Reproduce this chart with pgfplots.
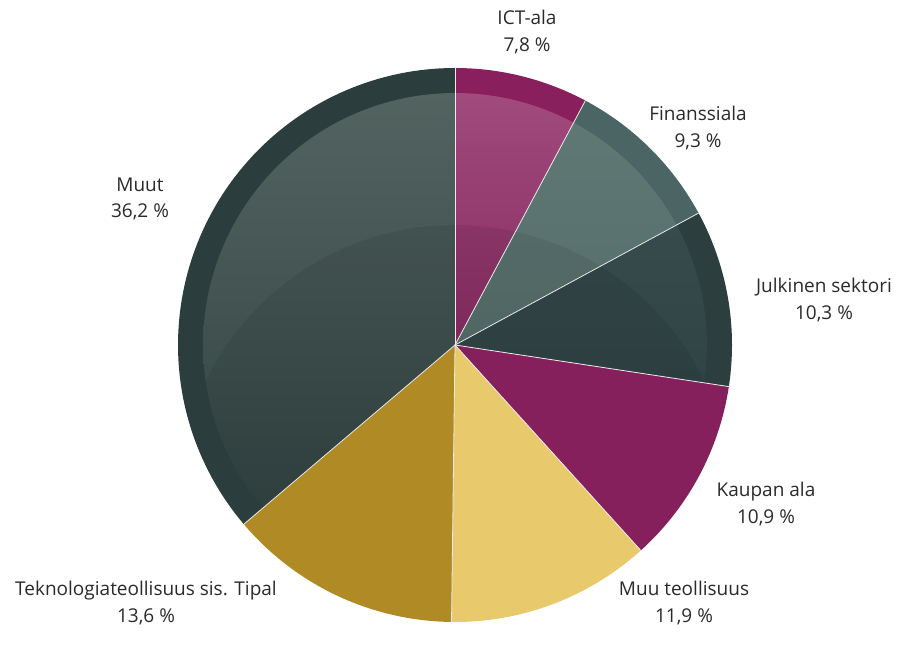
\documentclass[border=0pt]{standalone}
\usepackage{pgfplots}
\pgfplotsset{compat=1.18}
\usepackage{pgfplotstable}
\usepackage{fontspec}
\setmainfont{Open Sans}

\definecolor{ictc}{HTML}{8A1F5E}
\definecolor{finc}{HTML}{4B6464}
\definecolor{julc}{HTML}{2C3F3E}
\definecolor{kauc}{HTML}{86205C}
\definecolor{muuc}{HTML}{E8C96C}
\definecolor{tekc}{HTML}{AF8A25}
\definecolor{muutc}{HTML}{2B3D3C}
\definecolor{labc}{HTML}{2A2A2A}
% highlight gradients (top / bottom)
\definecolor{ictT}{HTML}{A04A7D}\definecolor{ictB}{HTML}{882C62}
\definecolor{finT}{HTML}{607874}\definecolor{finB}{HTML}{566E6B}
\definecolor{julT}{HTML}{374A4C}\definecolor{julB}{HTML}{304345}
\definecolor{muutT}{HTML}{536360}\definecolor{muutB}{HTML}{324443}

% shares in percent, clockwise from 12 o'clock
\pgfplotstableread{
share col   hitop  hibot
7.8   ictc  ictT   ictB
9.3   finc  finT   finB
10.3  julc  julT   julB
10.9  kauc  none   none
11.9  muuc  none   none
13.6  tekc  none   none
36.2  muutc muutT  muutB
}\piedata

\def\noneword{none}

\begin{document}
\begin{tikzpicture}
\begin{axis}[
    x=1pt, y=1pt,
    xmin=0, xmax=909, ymin=0, ymax=671,
    hide axis,
    clip=false,
  ]
  \def\cx{455}\def\cy{326}\def\R{277}\def\Ri{252}\def\dd{157}
  \def\cum{0}
  \pgfplotsforeachungrouped \i in {0,...,6}{%
    \pgfplotstablegetelem{\i}{share}\of\piedata \let\sh\pgfplotsretval
    \pgfplotstablegetelem{\i}{col}\of\piedata \let\cc\pgfplotsretval
    \pgfplotstablegetelem{\i}{hitop}\of\piedata \let\hiT\pgfplotsretval
    \pgfplotstablegetelem{\i}{hibot}\of\piedata \let\hiB\pgfplotsretval
    \pgfmathsetmacro\aS{90-3.6*\cum}
    \pgfmathsetmacro\aE{90-3.6*(\cum+\sh)}
    \edef\doit{\noexpand\addplot[fill=\cc, draw=none, domain=\aE:\aS, samples=90, variable=\noexpand\t]
      ({\cx+\R*cos(\noexpand\t)},{\cy+\R*sin(\noexpand\t)}) -- (axis cs:\cx,\cy) -- cycle;}
    \doit
    \ifx\hiT\noneword\else
      \edef\doit{\noexpand\addplot[draw=none, top color=\hiT, bottom color=\hiB, domain=\aE:\aS, samples=90, variable=\noexpand\t]
        ({\cx+\Ri*cos(\noexpand\t)},{\cy+\Ri*sin(\noexpand\t)}) -- (axis cs:\cx,\cy) -- cycle;}
      \doit
      % lower inner disc of the gloss, slightly darker
      \edef\doit{\noexpand\addplot[draw=none, fill=black, fill opacity=0.07, domain=\aE:\aS, samples=90, variable=\noexpand\t]
        ({\cx+min(\Ri,-\dd*sin(\noexpand\t)+sqrt(\dd*\dd*sin(\noexpand\t)^2-\dd*\dd+\R*\R))*cos(\noexpand\t)},
         {\cy+min(\Ri,-\dd*sin(\noexpand\t)+sqrt(\dd*\dd*sin(\noexpand\t)^2-\dd*\dd+\R*\R))*sin(\noexpand\t)}) -- (axis cs:\cx,\cy) -- cycle;}
      \doit
    \fi
    \pgfmathsetmacro\cum{\cum+\sh}
  }
  % white separators
  \def\cum{0}
  \pgfplotsforeachungrouped \i in {0,...,6}{%
    \pgfplotstablegetelem{\i}{share}\of\piedata \let\sh\pgfplotsretval
    \pgfmathsetmacro\aS{90-3.6*\cum}
    \edef\doit{\noexpand\addplot[white!85!gray, line width=0.8pt, domain=0:\R, samples=2]
      ({\cx+x*cos(\aS)},{\cy+x*sin(\aS)});}
    \doit
    \pgfmathsetmacro\cum{\cum+\sh}
  }
  \begin{scope}[every node/.style={align=center, text=labc, font=\fontsize{19}{26.5}\selectfont}]
    \node at (axis cs:527,639) {ICT-ala\\7,8 \%};
    \node at (axis cs:698,543) {Finanssiala\\9,3 \%};
    \node at (axis cs:824,371) {Julkinen sektori\\10,3 \%};
    \node at (axis cs:766,167) {Kaupan ala\\10,9 \%};
    \node at (axis cs:684,68) {Muu teollisuus\\11,9 \%};
    \node at (axis cs:146,68) {Teknologiateollisuus sis. Tipal\\13,6 \%};
    \node at (axis cs:140,472) {Muut\\36,2 \%};
  \end{scope}
\end{axis}
\pgfresetboundingbox
\path (current axis.south west) rectangle (current axis.north east);
\end{tikzpicture}
\end{document}
